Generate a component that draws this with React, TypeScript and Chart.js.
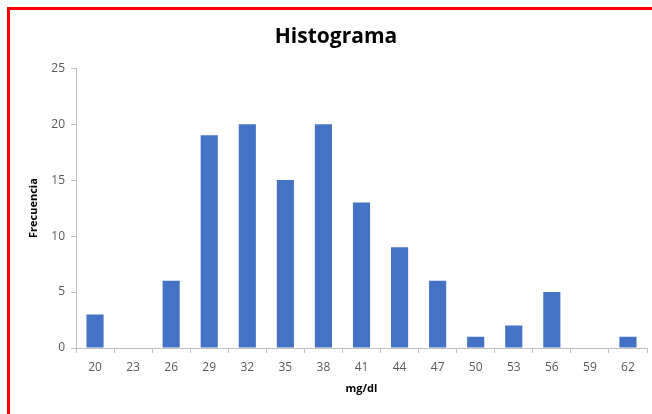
import React, { useEffect, useRef } from "react";
import { Chart, registerables } from "chart.js";

Chart.register(...registerables);

const categories = ["20", "23", "26", "29", "32", "35", "38", "41", "44", "47", "50", "53", "56", "59", "62"];
const frequencies = [3, 0, 6, 19, 20, 15, 20, 13, 9, 6, 1, 2, 5, 0, 1];
const chartTitle = "Histograma";
const xTitle = "mg/dl";
const yTitle = "Frecuencia";

const FONT = "'Open Sans', 'Liberation Sans', sans-serif";

export default function App() {
  const ref = useRef<HTMLCanvasElement | null>(null);

  useEffect(() => {
    document.body.style.margin = "0";
    if (!ref.current) return;
    const chart = new Chart(ref.current, {
      type: "bar",
      data: {
        labels: categories,
        datasets: [
          {
            data: frequencies,
            backgroundColor: "#4472C4",
            borderWidth: 0,
            barPercentage: 0.9,
            categoryPercentage: 0.5,
          },
        ],
      },
      options: {
        animation: false,
        responsive: false,
        maintainAspectRatio: false,
        layout: { padding: { left: 25, right: 5, top: 0, bottom: 19 } },
        plugins: {
          legend: { display: false },
          tooltip: { enabled: false },
          title: {
            display: true,
            text: chartTitle,
            color: "#000000",
            font: { family: FONT, size: 21, weight: "bold" },
            padding: { top: 24, bottom: 19 },
          },
        },
        scales: {
          x: {
            offset: true,
            grid: {
              display: true,
              offset: true,
              drawOnChartArea: false,
              drawTicks: true,
              tickLength: 5,
              color: "#bfbfbf",
            },
            border: { display: true, color: "#bfbfbf" },
            ticks: {
              color: "#595959",
              font: { family: FONT, size: 12 },
              padding: 7,
              maxRotation: 0,
              autoSkip: false,
            },
            title: {
              display: true,
              text: xTitle,
              color: "#000000",
              font: { family: FONT, size: 11, weight: "bold" },
              padding: { top: 4, bottom: 0 },
            },
            afterFit: (scale: any) => {
              scale.height = 47;
            },
          },
          y: {
            min: 0,
            max: 25,
            ticks: {
              stepSize: 5,
              color: "#595959",
              font: { family: FONT, size: 12 },
              padding: 6,
            },
            grid: {
              display: true,
              drawOnChartArea: false,
              drawTicks: true,
              tickLength: 5,
              color: "#bfbfbf",
            },
            border: { display: true, color: "#bfbfbf" },
            title: {
              display: true,
              text: yTitle,
              color: "#000000",
              font: { family: FONT, size: 11, weight: "bold" },
              padding: { top: 2, bottom: 6 },
            },
            afterFit: (scale: any) => {
              scale.width = 51;
            },
          },
        },
      },
    });
    return () => chart.destroy();
  }, []);

  return (
    <div style={{ position: "relative", width: 652, height: 414, background: "#ffffff" }}>
      <canvas ref={ref} width={652} height={414} style={{ display: "block", width: 652, height: 414 }} />
      <div
        style={{
          position: "absolute",
          left: 7,
          top: 7,
          right: 0,
          bottom: 0,
          borderLeft: "3px solid #ff0000",
          borderTop: "3px solid #ff0000",
          pointerEvents: "none",
        }}
      />
    </div>
  );
}
